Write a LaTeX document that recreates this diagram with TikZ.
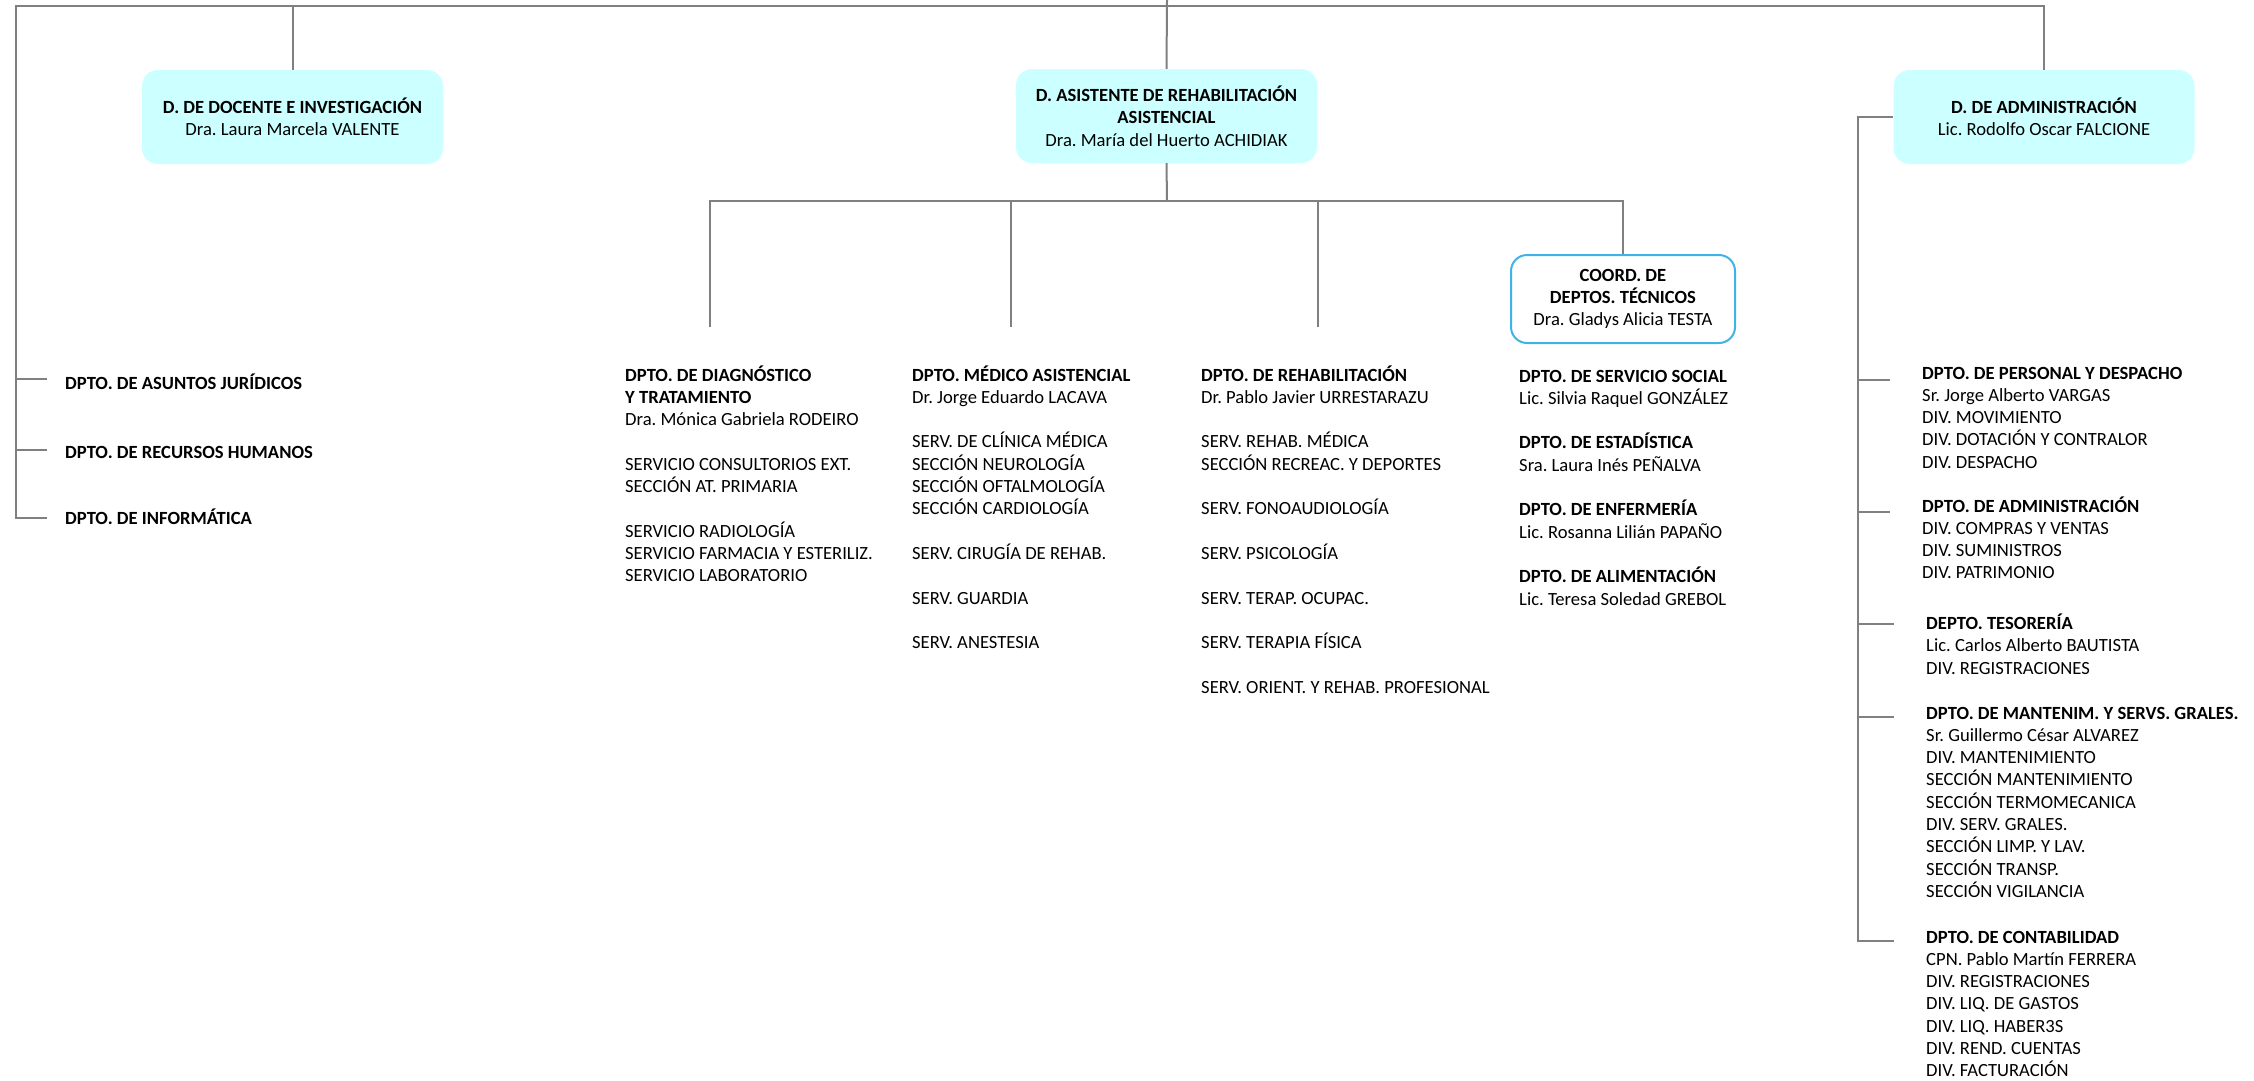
\documentclass[tikz,border=0pt]{standalone}
\usepackage{fontspec}
\setmainfont{Carlito}
\usetikzlibrary{positioning}
\frenchspacing

\definecolor{celeste}{HTML}{CCFFFF}
\definecolor{azulborde}{HTML}{3FB3E8}
\definecolor{gris}{HTML}{808080}

\newcommand{\letra}{\fontsize{18.6pt}{22.3pt}\selectfont}
\newcommand{\lista}[1]{\begin{tabular}[t]{@{}l@{}}#1\end{tabular}}

\begin{document}
\begin{tikzpicture}[x=1pt,y=-1pt,font=\letra,
                    linea/.style={draw=gris,line width=2pt},
                    direccion/.style={fill=celeste,rounded corners=16pt,minimum width=301pt,
                                      minimum height=94pt,align=center,inner sep=0pt},
                    coordinacion/.style={direccion,fill=white,draw=azulborde,line width=2pt,
                                         minimum width=224pt,minimum height=88pt},
                    bloque/.style={anchor=base west,inner sep=0pt}]

  \useasboundingbox (0,0) rectangle (2254,1080);

  % direcciones
  \node[direccion] (doc)  at (292.5,117) {\textbf{D. DE DOCENTE E INVESTIGACIÓN}\\Dra. Laura Marcela VALENTE};
  \node[direccion] (asis) at (1166.5,116) {\textbf{D. ASISTENTE DE REHABILITACIÓN}\\\textbf{ASISTENCIAL}\\Dra. María del Huerto ACHIDIAK};
  \node[direccion] (adm)  at (2044,117) {\textbf{D. DE ADMINISTRACIÓN}\\Lic. Rodolfo Oscar FALCIONE};
  \node[coordinacion] (coo) at (1623,299) {\textbf{COORD. DE}\\\textbf{DEPTOS. TÉCNICOS}\\Dra. Gladys Alicia TESTA};

  % dptos. de la direccion
  \node[bloque] (jur)  at (65,389) {\textbf{DPTO. DE ASUNTOS JURÍDICOS}};
  \node[bloque] (rrhh) at (65,458) {\textbf{DPTO. DE RECURSOS HUMANOS}};
  \node[bloque] (inf)  at (65,524) {\textbf{DPTO. DE INFORMÁTICA}};

  % dptos. asistenciales
  \node[bloque] (diag) at (625,381) {\lista{\textbf{DPTO. DE DIAGNÓSTICO}\\\textbf{Y TRATAMIENTO}\\
    Dra. Mónica Gabriela RODEIRO\\ \\SERVICIO CONSULTORIOS EXT.\\SECCIÓN AT. PRIMARIA\\ \\
    SERVICIO RADIOLOGÍA\\SERVICIO FARMACIA Y ESTERILIZ.\\SERVICIO LABORATORIO}};
  \node[bloque] (med)  at (912,381) {\lista{\textbf{DPTO. MÉDICO ASISTENCIAL}\\Dr. Jorge Eduardo LACAVA\\ \\
    SERV. DE CLÍNICA MÉDICA\\SECCIÓN NEUROLOGÍA\\SECCIÓN OFTALMOLOGÍA\\SECCIÓN CARDIOLOGÍA\\ \\
    SERV. CIRUGÍA DE REHAB.\\ \\SERV. GUARDIA\\ \\SERV. ANESTESIA}};
  \node[bloque] (reh)  at (1201,381) {\lista{\textbf{DPTO. DE REHABILITACIÓN}\\Dr. Pablo Javier URRESTARAZU\\ \\
    SERV. REHAB. MÉDICA\\SECCIÓN RECREAC. Y DEPORTES\\ \\SERV. FONOAUDIOLOGÍA\\ \\SERV. PSICOLOGÍA\\ \\
    SERV. TERAP. OCUPAC.\\ \\SERV. TERAPIA FÍSICA\\ \\SERV. ORIENT. Y REHAB. PROFESIONAL}};
  \node[bloque] (tec)  at (1519,382) {\lista{\textbf{DPTO. DE SERVICIO SOCIAL}\\Lic. Silvia Raquel GONZÁLEZ\\ \\
    \textbf{DPTO. DE ESTADÍSTICA}\\Sra. Laura Inés PEÑALVA\\ \\
    \textbf{DPTO. DE ENFERMERÍA}\\Lic. Rosanna Lilián PAPAÑO\\ \\
    \textbf{DPTO. DE ALIMENTACIÓN}\\Lic. Teresa Soledad GREBOL}};

  % dptos. de administracion
  \node[bloque] (per)  at (1922,379) {\lista{\textbf{DPTO. DE PERSONAL Y DESPACHO}\\Sr. Jorge Alberto VARGAS\\
    DIV. MOVIMIENTO\\DIV. DOTACIÓN Y CONTRALOR\\DIV. DESPACHO}};
  \node[bloque] (adm2) at (1922,512) {\lista{\textbf{DPTO. DE ADMINISTRACIÓN}\\DIV. COMPRAS Y VENTAS\\
    DIV. SUMINISTROS\\DIV. PATRIMONIO}};
  \node[bloque] (tes)  at (1926,629.5) {\lista{\textbf{DEPTO. TESORERÍA}\\Lic. Carlos Alberto BAUTISTA\\
    DIV. REGISTRACIONES}};
  \node[bloque] (man)  at (1926,719) {\lista{\textbf{DPTO. DE MANTENIM. Y SERVS. GRALES.}\\Sr. Guillermo César ALVAREZ\\
    DIV. MANTENIMIENTO\\SECCIÓN MANTENIMIENTO\\SECCIÓN TERMOMECANICA\\DIV. SERV. GRALES.\\
    SECCIÓN LIMP. Y LAV.\\SECCIÓN TRANSP.\\SECCIÓN VIGILANCIA}};
  \node[bloque] (cont) at (1926,943) {\lista{\textbf{DPTO. DE CONTABILIDAD}\\CPN. Pablo Martín FERRERA\\
    DIV. REGISTRACIONES\\DIV. LIQ. DE GASTOS\\DIV. LIQ. HABER3S\\DIV. REND. CUENTAS\\DIV. FACTURACIÓN}};

  % puntos de las lineas
  \coordinate (raiz) at (1167,0);
  \coordinate (esq)  at (16,6);
  \coordinate (bus)  at (1167,201);
  \coordinate (eje)  at (1858,117);
  \foreach \n/\x in {t1/710,t2/1011,t3/1318}
    \coordinate (\n) at (\x,327);
  \foreach \n/\d in {jur/10,rrhh/8,inf/6}
    \coordinate (\n-r) at ([xshift=-18pt,yshift=\d pt]\n.base west);
  \foreach \n/\d in {per/-1,adm2/0,tes/6,man/2,cont/2}
    \coordinate (\n-r) at ([xshift=-32pt,yshift=\d pt]\n.base west);

  % lineas
  \draw[linea] (inf-r) -| (esq) -| (adm.north);
  \foreach \n in {jur,rrhh}
    \draw[linea] (esq |- \n-r) -- (\n-r);
  \draw[linea] (doc.north) -- (doc.north |- esq);
  \draw[linea] (raiz) -- (asis.north);
  \draw[linea] (asis.south) -- (bus);
  \draw[linea] (t1) |- (bus) -| (coo.north);
  \foreach \n in {t2,t3}
    \draw[linea] (\n) -- (\n |- bus);
  \draw[linea] (adm.west) -- (eje) |- (cont-r);
  \foreach \n in {per,adm2,tes,man}
    \draw[linea] (eje |- \n-r) -- (\n-r);
\end{tikzpicture}
\end{document}
